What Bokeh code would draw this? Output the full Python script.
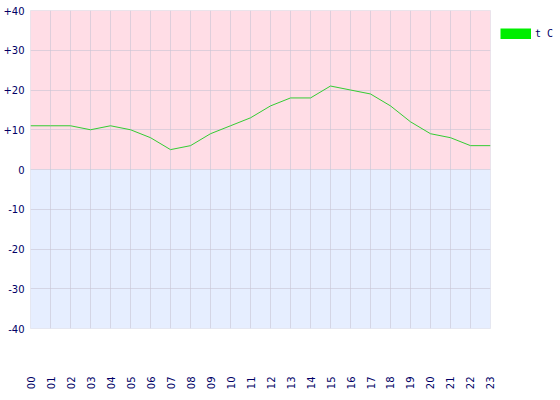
from bokeh.plotting import figure
from bokeh.layouts import row
from bokeh.models import (Range1d, FixedTicker, BoxAnnotation, Legend, LegendItem,
                          ColumnDataSource)
from bokeh.embed import file_html
from bokeh.resources import INLINE

hours = list(range(24))
hour_labels = ["%02d" % h for h in hours]
temps = [11, 11, 11, 10, 11, 10, 8, 5, 6, 9, 11, 13, 16, 18, 18, 21, 20, 19, 16, 12, 9, 8, 6, 6]
y_ticks = [-40, -30, -20, -10, 0, 10, 20, 30, 40]
y_tick_labels = ["-40", "-30", "-20", "-10", "0", "+10", "+20", "+30", "+40"]
series_name = "t C"

p = figure(width=498, height=392, output_backend="svg", toolbar_location=None,
           x_range=Range1d(0, 23), y_range=Range1d(-40, 40),
           min_border_top=10, min_border_left=10, min_border_bottom=10, min_border_right=8)

p.background_fill_color = "white"
p.border_fill_color = "white"
p.outline_line_color = "#E4E4EC"

p.add_layout(BoxAnnotation(bottom=0, top=40, fill_color="#FFDDE6", fill_alpha=1,
                           line_color=None, level="image"))
p.add_layout(BoxAnnotation(bottom=-40, top=0, fill_color="#E6EEFF", fill_alpha=1,
                           line_color=None, level="image"))

src = ColumnDataSource(dict(x=hours, y=temps))
p.line("x", "y", source=src, line_color="#33CC33", line_width=1)

# axes
p.xaxis.ticker = FixedTicker(ticks=hours)
p.xaxis.major_label_overrides = {h: lab for h, lab in zip(hours, hour_labels)}
p.xaxis.major_label_orientation = 1.5707963
p.xaxis.major_label_standoff = 48
p.yaxis.ticker = FixedTicker(ticks=y_ticks)
p.yaxis.major_label_overrides = {t: lab for t, lab in zip(y_ticks, y_tick_labels)}
p.yaxis.major_label_standoff = 6
for ax in (p.xaxis, p.yaxis):
    ax.axis_line_color = None
    ax.major_tick_line_color = None
    ax.minor_tick_line_color = None
    ax.major_tick_out = 0
    ax.major_tick_in = 0
    ax.major_label_text_font = "DejaVu Sans"
    ax.major_label_text_font_size = "10px"
    ax.major_label_text_color = "#000066"

p.xgrid.ticker = FixedTicker(ticks=hours)
p.ygrid.ticker = FixedTicker(ticks=y_ticks)
for g in (p.xgrid, p.ygrid):
    g.grid_line_color = "#C8C4D4"
    g.grid_line_alpha = 0.6
    g.grid_line_width = 1

# legend strip to the right of the chart
q = figure(width=58, height=392, output_backend="svg", toolbar_location=None,
           x_range=Range1d(100, 101), y_range=Range1d(100, 101),
           x_axis_location=None, y_axis_location=None,
           min_border_top=10, min_border_left=0, min_border_bottom=0, min_border_right=0)
q.grid.visible = False
q.outline_line_color = None
q.background_fill_color = "white"
q.border_fill_color = "white"
swatch = q.line("x", "y", source=src, line_color="#00EE00", line_width=11, line_cap="butt")

legend = Legend(items=[LegendItem(label=series_name, renderers=[swatch])],
                location=(2, 289), margin=0, padding=0, spacing=0,
                glyph_width=31, glyph_height=11, label_standoff=4,
                label_text_font="DejaVu Sans Mono", label_text_font_size="10px",
                label_text_color="#000066", label_height=11,
                border_line_color=None, background_fill_alpha=0)
q.add_layout(legend)

layout = row(p, q)
open("out.html", "w").write(file_html(layout, INLINE))
